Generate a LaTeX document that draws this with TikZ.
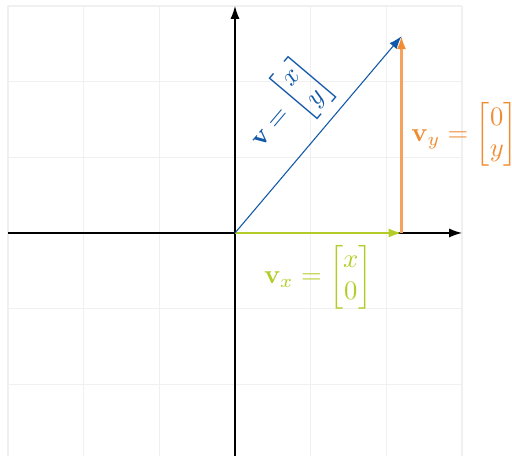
\documentclass[tikz,border=0pt]{standalone}
\usepackage{amsmath}
\usetikzlibrary{arrows.meta}
\definecolor{vblue}{RGB}{18,88,168}
\definecolor{vgreen}{RGB}{180,204,40}
\definecolor{vorange}{RGB}{240,140,50}
\definecolor{lightorange}{RGB}{244,162,92}
\definecolor{gridc}{RGB}{240,240,240}
\begin{document}
\begin{tikzpicture}[
  arr/.style={-{Latex[length=1.7mm,width=1.2mm]}},
  axis/.style={black, line width=0.5pt, arr},
  gvec/.style={vgreen, line width=0.7pt, arr},
  ovec/.style={draw=lightorange, line width=0.8pt, -{Latex[length=1.7mm,width=1.2mm,color=vorange]}},
  bvec/.style={vblue, line width=0.4pt, arr}
]
\useasboundingbox (-3.106,-2.947) rectangle (3.661,3.079);
\draw[gridc, line width=0.5pt] (-3,-3) grid (3,3);
\coordinate (O) at (0,0);
\coordinate (L) at (-3,0);
\coordinate (R) at (3,0);
\coordinate (B) at (0,-3);
\coordinate (T) at (0,3);
\coordinate (P) at (2.2,2.6);
\coordinate (X) at (2.2,0);
\draw[axis] (L) -- (R);
\draw[axis] (B) -- (T);
\draw[gvec] (O) -- (X)
  node[midway, below=1pt, text=vgreen] (lx) {$\mathbf{v}_x = \begin{bmatrix} x\\ 0\end{bmatrix}$};
\draw[ovec] (X) -- (P)
  node[midway, right=0pt, text=vorange] (ly) {$\mathbf{v}_y = \begin{bmatrix} 0\\ y\end{bmatrix}$};
\draw[bvec] (O) -- (P)
  node[pos=0.5, above, sloped, text=vblue] (lv) {$\mathbf{v} = \begin{bmatrix} x\\ y\end{bmatrix}$};
\end{tikzpicture}
\end{document}
